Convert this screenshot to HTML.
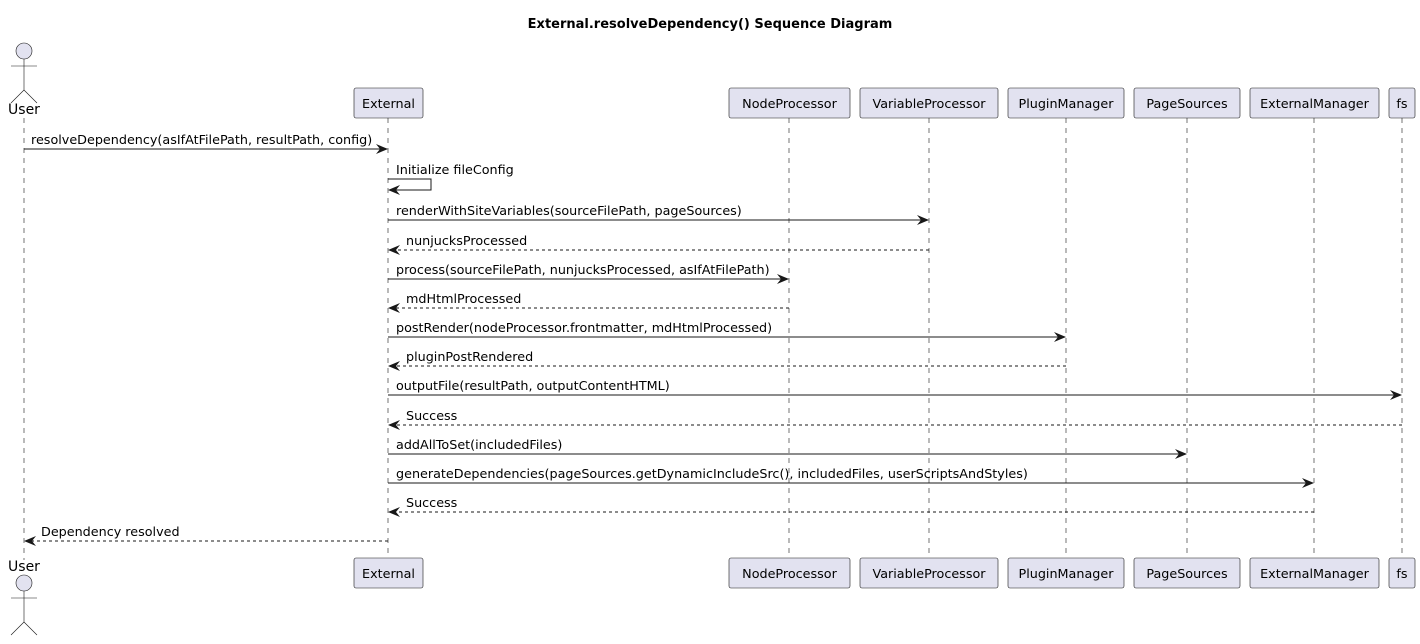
<!DOCTYPE html>
<html><head><meta charset="utf-8"><style>
body{margin:0;background:#fff}
svg text{font-family:"DejaVu Sans","Liberation Sans",sans-serif;font-size:12.75px;fill:#000}
</style></head><body>
<svg width="1420" height="639" viewBox="0 0 1420 639" xmlns="http://www.w3.org/2000/svg">
<defs>
<marker id="a" viewBox="0 0 12 10" refX="11" refY="5" markerWidth="12" markerHeight="10" markerUnits="userSpaceOnUse" orient="auto"><path d="M0,0 L12,5 L0,10 L4,5 Z" fill="#181818"/></marker>
</defs>
<text x="710" y="28" text-anchor="middle" style="font-weight:bold;font-size:13px">External.resolveDependency() Sequence Diagram</text>
<g stroke="#181818" stroke-width="0.6" stroke-dasharray="5,5">
<line x1="24" y1="118" x2="24" y2="560"/>
<line x1="388" y1="118" x2="388" y2="558"/>
<line x1="789" y1="118" x2="789" y2="558"/>
<line x1="929" y1="118" x2="929" y2="558"/>
<line x1="1066" y1="118" x2="1066" y2="558"/>
<line x1="1187" y1="118" x2="1187" y2="558"/>
<line x1="1314" y1="118" x2="1314" y2="558"/>
<line x1="1402" y1="118" x2="1402" y2="558"/>
</g>
<g fill="#E2E2F0" stroke="#181818" stroke-width="0.6">
<circle cx="24" cy="51" r="8"/>
<circle cx="24" cy="583" r="8"/>
</g>
<g stroke="#181818" stroke-width="0.6" fill="none">
<path d="M24,59 V90 M11,66 H37 M24,90 L11,103 M24,90 L37,103"/>
<path d="M24,591 V622 M11,598 H37 M24,622 L11,635 M24,622 L37,635"/>
</g>
<text x="24" y="114" text-anchor="middle" style="font-size:14px">User</text>
<text x="24" y="571" text-anchor="middle" style="font-size:14px">User</text>
<g fill="#E2E2F0" stroke="#181818" stroke-width="0.6">
<rect x="354" y="88" width="69" height="30" rx="2"/><rect x="354" y="558" width="69" height="30" rx="2"/>
<rect x="729" y="88" width="121" height="30" rx="2"/><rect x="729" y="558" width="121" height="30" rx="2"/>
<rect x="860" y="88" width="138" height="30" rx="2"/><rect x="860" y="558" width="138" height="30" rx="2"/>
<rect x="1008" y="88" width="116" height="30" rx="2"/><rect x="1008" y="558" width="116" height="30" rx="2"/>
<rect x="1134" y="88" width="106" height="30" rx="2"/><rect x="1134" y="558" width="106" height="30" rx="2"/>
<rect x="1250" y="88" width="129" height="30" rx="2"/><rect x="1250" y="558" width="129" height="30" rx="2"/>
<rect x="1389" y="88" width="26" height="30" rx="2"/><rect x="1389" y="558" width="26" height="30" rx="2"/>
</g>
<g text-anchor="middle" style="font-size:14px">
<text x="388.5" y="108">External</text><text x="388.5" y="578">External</text>
<text x="789.5" y="108">NodeProcessor</text><text x="789.5" y="578">NodeProcessor</text>
<text x="929" y="108">VariableProcessor</text><text x="929" y="578">VariableProcessor</text>
<text x="1066" y="108">PluginManager</text><text x="1066" y="578">PluginManager</text>
<text x="1187" y="108">PageSources</text><text x="1187" y="578">PageSources</text>
<text x="1314.5" y="108">ExternalManager</text><text x="1314.5" y="578">ExternalManager</text>
<text x="1402" y="108">fs</text><text x="1402" y="578">fs</text>
</g>
<g stroke="#181818" stroke-width="1" fill="none" marker-end="url(#a)">
<line x1="24" y1="149" x2="387" y2="149"/>
<path d="M388,179 H431 V190 H389"/>
<line x1="388" y1="220" x2="928" y2="220"/>
<line x1="929" y1="250" x2="389" y2="250" stroke-dasharray="3,3"/>
<line x1="388" y1="279" x2="788" y2="279"/>
<line x1="789" y1="308" x2="389" y2="308" stroke-dasharray="3,3"/>
<line x1="388" y1="337" x2="1065" y2="337"/>
<line x1="1066" y1="366" x2="389" y2="366" stroke-dasharray="3,3"/>
<line x1="388" y1="395" x2="1401" y2="395"/>
<line x1="1402" y1="425" x2="389" y2="425" stroke-dasharray="3,3"/>
<line x1="388" y1="454" x2="1186" y2="454"/>
<line x1="388" y1="483" x2="1313" y2="483"/>
<line x1="1314" y1="512" x2="389" y2="512" stroke-dasharray="3,3"/>
<line x1="388" y1="541" x2="25" y2="541" stroke-dasharray="3,3"/>
</g>
<text x="31" y="144">resolveDependency(asIfAtFilePath, resultPath, config)</text>
<text x="396" y="174">Initialize fileConfig</text>
<text x="396" y="215">renderWithSiteVariables(sourceFilePath, pageSources)</text>
<text x="406" y="245">nunjucksProcessed</text>
<text x="396" y="274">process(sourceFilePath, nunjucksProcessed, asIfAtFilePath)</text>
<text x="406" y="303">mdHtmlProcessed</text>
<text x="396" y="332">postRender(nodeProcessor.frontmatter, mdHtmlProcessed)</text>
<text x="406" y="361">pluginPostRendered</text>
<text x="396" y="390">outputFile(resultPath, outputContentHTML)</text>
<text x="406" y="420">Success</text>
<text x="396" y="449">addAllToSet(includedFiles)</text>
<text x="396" y="478">generateDependencies(pageSources.getDynamicIncludeSrc(), includedFiles, userScriptsAndStyles)</text>
<text x="406" y="507">Success</text>
<text x="41" y="536">Dependency resolved</text>
</svg>
</body></html>
